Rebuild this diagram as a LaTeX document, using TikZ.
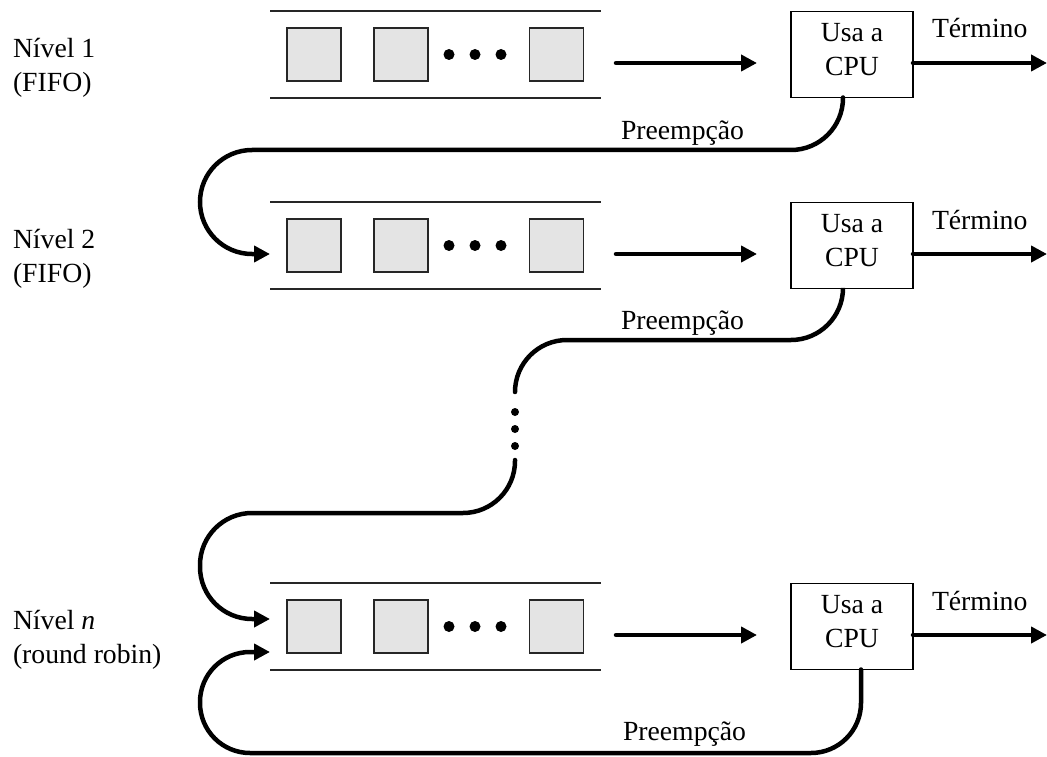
\documentclass[tikz,border=0pt]{standalone}
\usepackage{fontspec}
\setmainfont{Liberation Serif}
\usetikzlibrary{arrows.meta,calc}
\definecolor{cellgray}{HTML}{E4E4E4}
\begin{document}
\begin{tikzpicture}[x=1pt,y=-1pt,
  every node/.style={font=\fontsize{27.7}{34}\selectfont, inner sep=0pt, outer sep=0pt},
  cell/.style={draw=black!85, line width=1.5pt, fill=cellgray, minimum width=54pt, minimum height=53pt},
  qdot/.style={circle, fill=black, minimum size=11pt},
  vdot/.style={circle, fill=black, minimum size=8pt},
  cpubox/.style={draw=black, line width=1.5pt, minimum width=122pt, minimum height=86pt},
  rail/.style={line width=1.5pt, draw=black!85},
  wire/.style={line width=4.5pt, line cap=round, rounded corners=52pt},
  flow/.style={wire, -{Triangle[length=16pt,width=16pt]}},
]
\useasboundingbox (0,0) rectangle (1047,757);

% one row per priority level: queue, CPU box and exit arrow
\foreach \lv/\dy in {1/0,2/191,n/572}{
  \node[minimum width=331pt, minimum height=87pt] (q\lv) at (435.5,54.5+\dy) {};
  \draw[rail] (q\lv.north west) -- (q\lv.north east)
              (q\lv.south west) -- (q\lv.south east);
  \node[cell] (q\lv-a) at (314,54.5+\dy) {};
  \node[cell] (q\lv-b) at (401,54.5+\dy) {};
  \node[cell] (q\lv-c) at (556.5,54.5+\dy) {};
  \node[qdot] (q\lv-d1) at (449,54.5+\dy) {};
  \node[qdot] (q\lv-d2) at (475,54.5+\dy) {};
  \node[qdot] (q\lv-d3) at (501,54.5+\dy) {};
  \node[cpubox] (cpu\lv) at (852,54.5+\dy) {};
  \node[align=center] (use\lv) at (852,49.5+\dy) {Usa a\\CPU};
  \coordinate (out\lv) at (616,63+\dy);
  \coordinate (in\lv) at (757,63+\dy);
  \draw[flow] (out\lv) -- (in\lv);
  \coordinate (fin\lv) at (1047,63+\dy);
  \draw[flow] (cpu\lv.east |- fin\lv) -- (fin\lv);
  \node[anchor=base west] (end\lv) at (932,38+\dy) {Término};
}

% level names
\node[anchor=west, align=left] (lab1) at (13,68) {Nível 1\\(FIFO)};
\node[anchor=west, align=left] (lab2) at (13,259) {Nível 2\\(FIFO)};
\node[anchor=west, align=left] (labn) at (13,640) {Nível \textit{n}\\(round robin)};

% entry points on the left of each queue
\coordinate (enter2) at (270,254);
\coordinate (entern) at (270,619);
\coordinate (loopn) at (270,652);

% preemption: level 1 -> level 2
\draw[flow] ($(cpu1.south)+(-9,0)$) |- (200,150) |- (enter2);
\node[anchor=base west] (pre1) at (621,140) {Preempção};

% preemption: level 2 -> ... -> level n
\coordinate (gapTop) at (515,392);
\coordinate (gapBot) at (515,460);
\draw[wire] ($(cpu2.south)+(-9,0)$) |- (515,340) -- (gapTop);
\node[vdot] (g1) at (515,412) {};
\node[vdot] (g2) at (515,429) {};
\node[vdot] (g3) at (515,446) {};
\draw[flow] (gapBot) |- (200,513) |- (entern);
\node[anchor=base west] (pre2) at (621,329) {Preempção};

% preemption at level n returns to the same queue
\draw[flow, rounded corners=50pt] ($(cpun.south)+(9,0)$) |- (200,753) |- (loopn);
\node[anchor=base west] (pren) at (623,740) {Preempção};
\end{tikzpicture}
\end{document}
